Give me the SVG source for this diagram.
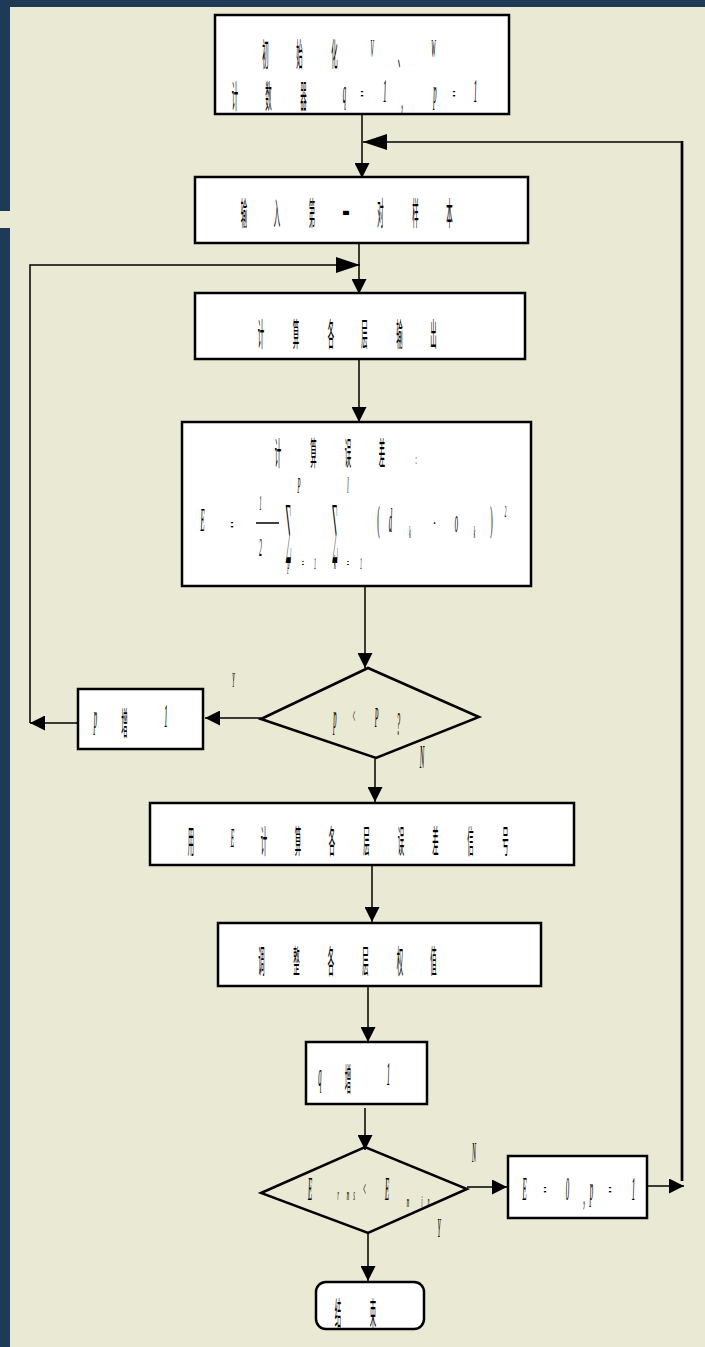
<svg xmlns="http://www.w3.org/2000/svg" width="705" height="1347" viewBox="0 0 705 1347">
  <defs>
    <style>
      .frame{fill:#1f3a57}
      .box{fill:#fff;stroke:#000;stroke-width:2.5}
      .dia{fill:none;stroke:#000;stroke-width:2.5}
      .ln{fill:none;stroke:#000;stroke-width:1.5}
      .c{font-family:"Noto Sans CJK SC","Noto Sans CJK JP",sans-serif;font-size:32px;text-anchor:middle;fill:#000}
      .l{font-family:"Liberation Serif",serif;font-style:italic;font-size:33px;text-anchor:middle;fill:#000;stroke:#000;stroke-width:0.25}
      .sg{font-family:"DejaVu Serif",serif;font-size:64px;text-anchor:middle;fill:#000}
    </style>
    <marker id="ah" markerUnits="userSpaceOnUse" markerWidth="15" markerHeight="15" refX="15" refY="7.5" orient="auto">
      <path d="M0,0 L15,7.5 L0,15 z" fill="#000"/>
    </marker>
    <marker id="ahl" markerUnits="userSpaceOnUse" markerWidth="24" markerHeight="16" refX="24" refY="8" orient="auto">
      <path d="M0,0 L24,8 L0,16 z" fill="#000"/>
    </marker>
  </defs>

  <!-- page background and frame -->
  <rect x="0" y="0" width="705" height="1347" fill="#eae9d4"/>
  <rect class="frame" x="0" y="0" width="705" height="7"/>
  <rect class="frame" x="0" y="0" width="10" height="211"/>
  <rect class="frame" x="0" y="228" width="10" height="1119"/>

  <!-- connectors -->
  <g id="connectors">
    <line class="ln" x1="362" y1="114" x2="362" y2="178" marker-end="url(#ah)"/>
    <line x1="682" y1="141" x2="682" y2="1181" stroke="#000" stroke-width="2.7"/>
    <line class="ln" x1="682" y1="142" x2="363" y2="142" marker-end="url(#ahl)"/>
    <line class="ln" x1="647" y1="1186" x2="684" y2="1186" marker-end="url(#ah)"/>
    <line class="ln" x1="359" y1="243" x2="359" y2="294" marker-end="url(#ah)"/>
    <polyline class="ln" points="30,723 30,265 360,265" marker-end="url(#ahl)"/>
    <line class="ln" x1="359" y1="359" x2="359" y2="422" marker-end="url(#ah)"/>
    <line class="ln" x1="365" y1="586" x2="365" y2="668" marker-end="url(#ah)"/>
    <line class="ln" x1="261" y1="718" x2="205" y2="718" marker-end="url(#ah)"/>
    <line class="ln" x1="85" y1="723" x2="30" y2="723" marker-end="url(#ah)"/>
    <line class="ln" x1="375" y1="759" x2="375" y2="802" marker-end="url(#ah)"/>
    <line class="ln" x1="372" y1="865" x2="372" y2="922" marker-end="url(#ah)"/>
    <line class="ln" x1="368" y1="986" x2="368" y2="1042" marker-end="url(#ah)"/>
    <line class="ln" x1="365" y1="1108" x2="365" y2="1150" marker-end="url(#ah)"/>
    <line class="ln" x1="467" y1="1187" x2="507" y2="1187" marker-end="url(#ah)"/>
    <line class="ln" x1="368" y1="1233" x2="368" y2="1281" marker-end="url(#ah)"/>
  </g>

  <!-- initialisation -->
  <g id="init">
    <rect class="box" x="215" y="15" width="294" height="99"/>
    <text class="c" transform="translate(265.5,66) scale(.2,1)">初</text>
    <text class="c" transform="translate(299.5,66) scale(.2,1)">始</text>
    <text class="c" transform="translate(334.5,66) scale(.2,1)">化</text>
    <text class="l" transform="translate(372,57) scale(.2,1)" style="font-size:26px">V</text>
    <text class="c" transform="translate(401,66) scale(.2,1)">、</text>
    <text class="l" transform="translate(433.5,57) scale(.2,1)" style="font-size:26px">W</text>
    <text class="c" transform="translate(235,108) scale(.2,1)">计</text>
    <text class="c" transform="translate(268.5,108) scale(.2,1)">数</text>
    <text class="c" transform="translate(303.5,108) scale(.2,1)">器</text>
    <text class="l" transform="translate(344.5,103) scale(.2,1)">q</text>
    <text class="l" transform="translate(362,101) scale(.2,1)" style="font-style:normal;font-size:22px">=</text>
    <text class="l" transform="translate(385,102) scale(.2,1)">1</text>
    <text class="l" transform="translate(402,109) scale(.2,1)">,</text>
    <text class="l" transform="translate(435,103) scale(.2,1)">p</text>
    <text class="l" transform="translate(454,101) scale(.2,1)" style="font-style:normal;font-size:22px">=</text>
    <text class="l" transform="translate(475.5,102) scale(.2,1)">1</text>
  </g>

  <!-- input sample -->
  <g id="input">
    <rect class="box" x="195" y="177" width="333" height="66"/>
    <text class="c" transform="translate(244,225) scale(.2,1)">输</text>
    <text class="c" transform="translate(277,225) scale(.2,1)">入</text>
    <text class="c" transform="translate(312,225) scale(.2,1)">第</text>
    <text class="c" transform="translate(346,225) scale(.2,1)" style="font-weight:bold">一</text>
    <text class="c" transform="translate(380.5,225) scale(.2,1)">对</text>
    <text class="c" transform="translate(415.5,225) scale(.2,1)">样</text>
    <text class="c" transform="translate(449.5,225) scale(.2,1)">本</text>
  </g>

  <!-- layer outputs -->
  <g id="forward">
    <rect class="box" x="195" y="293" width="330" height="66"/>
    <text class="c" transform="translate(261,346) scale(.2,1)">计</text>
    <text class="c" transform="translate(296,346) scale(.2,1)">算</text>
    <text class="c" transform="translate(331,346) scale(.2,1)">各</text>
    <text class="c" transform="translate(364.5,346) scale(.2,1)">层</text>
    <text class="c" transform="translate(399.5,346) scale(.2,1)">输</text>
    <text class="c" transform="translate(433.5,346) scale(.2,1)">出</text>
  </g>

  <!-- error formula -->
  <g id="error">
    <rect class="box" x="182" y="422" width="349" height="164"/>
    <text class="c" transform="translate(278,465) scale(.2,1)">计</text>
    <text class="c" transform="translate(313.5,465) scale(.2,1)">算</text>
    <text class="c" transform="translate(348,465) scale(.2,1)">误</text>
    <text class="c" transform="translate(382,465) scale(.2,1)">差</text>
    <text class="l" transform="translate(416,464) scale(.3,1)" style="font-style:normal;font-size:14px">:</text>
    <text class="l" transform="translate(202.5,531) scale(.2,1)">E</text>
    <text class="l" transform="translate(232,532) scale(.2,1)" style="font-style:normal;font-size:22px">=</text>
    <text class="l" transform="translate(260.5,510) scale(.2,1)" style="font-size:20px">1</text>
    <line x1="256" y1="523" x2="279" y2="523" stroke="#000" stroke-width="1.5"/>
    <text class="l" transform="translate(260.5,556) scale(.2,1)" style="font-size:26px">2</text>
    <text class="sg" transform="translate(288.5,551) scale(.12,1)">∑</text>
    <text class="l" transform="translate(299,493) scale(.2,1)" style="font-size:24px">P</text>
    <text class="l" transform="translate(288.5,569) scale(.2,1)" style="font-size:20px">p</text>
    <text class="l" transform="translate(303,569) scale(.2,1)" style="font-style:normal;font-size:16px">=</text>
    <text class="l" transform="translate(315,569) scale(.2,1)" style="font-size:16px">1</text>
    <text class="sg" transform="translate(335,551) scale(.12,1)">∑</text>
    <text class="l" transform="translate(348,493) scale(.2,1)" style="font-size:24px">l</text>
    <text class="l" transform="translate(335,569) scale(.2,1)" style="font-size:20px">k</text>
    <text class="l" transform="translate(348,569) scale(.2,1)" style="font-style:normal;font-size:16px">=</text>
    <text class="l" transform="translate(361,569) scale(.2,1)" style="font-size:16px">1</text>
    <text class="l" transform="translate(378.5,531) scale(.2,1)" style="font-style:normal;font-size:36px">(</text>
    <text class="l" transform="translate(390.5,532) scale(.2,1)">d</text>
    <text class="l" transform="translate(410,538) scale(.2,1)" style="font-size:16px">k</text>
    <text class="l" transform="translate(434.5,529) scale(.2,1)" style="font-style:normal;font-size:24px">-</text>
    <text class="l" transform="translate(456.5,532) scale(.2,1)">o</text>
    <text class="l" transform="translate(474.5,538) scale(.2,1)" style="font-size:16px">k</text>
    <text class="l" transform="translate(491.5,531) scale(.2,1)" style="font-style:normal;font-size:36px">)</text>
    <text class="l" transform="translate(505.5,517) scale(.2,1)" style="font-size:16px">2</text>
  </g>

  <!-- sample counter test -->
  <g id="test-p">
    <polygon class="dia" points="261,719 368,668 479,717 376,758"/>
    <text class="l" transform="translate(335,728) scale(.2,1)">p</text>
    <text class="l" transform="translate(354,723) scale(.2,1)" style="font-style:normal;font-size:20px">&lt;</text>
    <text class="l" transform="translate(376.5,727) scale(.2,1)" style="font-size:30px">P</text>
    <text class="l" transform="translate(398.5,735) scale(.2,1)" style="font-size:34px">?</text>
    <text class="l" transform="translate(233.5,687) scale(.2,1)" style="font-size:21px">Y</text>
    <text class="l" transform="translate(422,768) scale(.2,1)" style="font-size:34px">N</text>
  </g>

  <!-- p increment -->
  <g id="inc-p">
    <rect class="box" x="78" y="689" width="125" height="60"/>
    <text class="l" transform="translate(95.5,728) scale(.2,1)">p</text>
    <text class="c" transform="translate(124.5,735) scale(.2,1)">增</text>
    <text class="l" transform="translate(166,727) scale(.2,1)">1</text>
  </g>

  <!-- error signals -->
  <g id="signals">
    <rect class="box" x="150" y="803" width="424" height="62"/>
    <text class="c" transform="translate(191,853) scale(.2,1)">用</text>
    <text class="l" transform="translate(232.5,847) scale(.2,1)" style="font-size:28px">E</text>
    <text class="c" transform="translate(264,853) scale(.2,1)">计</text>
    <text class="c" transform="translate(298,853) scale(.2,1)">算</text>
    <text class="c" transform="translate(332,853) scale(.2,1)">各</text>
    <text class="c" transform="translate(366.5,853) scale(.2,1)">层</text>
    <text class="c" transform="translate(401,853) scale(.2,1)">误</text>
    <text class="c" transform="translate(435.5,853) scale(.2,1)">差</text>
    <text class="c" transform="translate(470.5,853) scale(.2,1)">信</text>
    <text class="c" transform="translate(505.5,853) scale(.2,1)">号</text>
  </g>

  <!-- weight update -->
  <g id="weights">
    <rect class="box" x="218" y="923" width="323" height="63"/>
    <text class="c" transform="translate(261.5,973) scale(.2,1)">调</text>
    <text class="c" transform="translate(296.5,973) scale(.2,1)">整</text>
    <text class="c" transform="translate(331,973) scale(.2,1)">各</text>
    <text class="c" transform="translate(365.5,973) scale(.2,1)">层</text>
    <text class="c" transform="translate(400,973) scale(.2,1)">权</text>
    <text class="c" transform="translate(433.5,973) scale(.2,1)">值</text>
  </g>

  <!-- q increment -->
  <g id="inc-q">
    <rect class="box" x="306" y="1042" width="121" height="62"/>
    <text class="l" transform="translate(320,1086) scale(.2,1)">q</text>
    <text class="c" transform="translate(348,1091) scale(.2,1)">增</text>
    <text class="l" transform="translate(388.5,1085) scale(.2,1)">1</text>
  </g>

  <!-- convergence test -->
  <g id="test-e">
    <polygon class="dia" points="261,1193 365,1147 467,1189 368,1233"/>
    <text class="l" transform="translate(310,1200) scale(.2,1)" style="font-size:34px">E</text>
    <text class="l" transform="translate(338,1200) scale(.2,1)" style="font-size:16px">r</text>
    <text class="l" transform="translate(348,1200) scale(.2,1)" style="font-size:16px">m</text>
    <text class="l" transform="translate(354,1200) scale(.2,1)" style="font-size:16px">s</text>
    <text class="l" transform="translate(364.5,1196) scale(.2,1)" style="font-style:normal;font-size:22px">&lt;</text>
    <text class="l" transform="translate(387,1200) scale(.2,1)" style="font-size:34px">E</text>
    <text class="l" transform="translate(408,1207) scale(.2,1)" style="font-size:16px">m</text>
    <text class="l" transform="translate(422,1207) scale(.2,1)" style="font-size:16px">i</text>
    <text class="l" transform="translate(428.5,1207) scale(.2,1)" style="font-size:16px">n</text>
    <text class="l" transform="translate(474,1162) scale(.2,1)" style="font-size:30px">N</text>
    <text class="l" transform="translate(439,1237) scale(.2,1)" style="font-size:28px">Y</text>
  </g>

  <!-- reset -->
  <g id="reset">
    <rect class="box" x="508" y="1156" width="139" height="62"/>
    <text class="l" transform="translate(524.5,1200) scale(.2,1)" style="font-size:34px">E</text>
    <text class="l" transform="translate(545,1197) scale(.2,1)" style="font-style:normal;font-size:22px">=</text>
    <text class="l" transform="translate(567.5,1200) scale(.2,1)" style="font-size:34px">0</text>
    <text class="l" transform="translate(584,1205) scale(.2,1)">,</text>
    <text class="l" transform="translate(591.5,1200) scale(.2,1)" style="font-size:34px">p</text>
    <text class="l" transform="translate(610,1197) scale(.2,1)" style="font-style:normal;font-size:22px">=</text>
    <text class="l" transform="translate(633.5,1200) scale(.2,1)" style="font-size:34px">1</text>
  </g>

  <!-- end -->
  <g id="end">
    <rect class="box" x="316" y="1282" width="108" height="47" rx="10" ry="10"/>
    <text class="c" transform="translate(338,1325) scale(.2,1)">结</text>
    <text class="c" transform="translate(373,1325) scale(.2,1)">束</text>
  </g>
</svg>
